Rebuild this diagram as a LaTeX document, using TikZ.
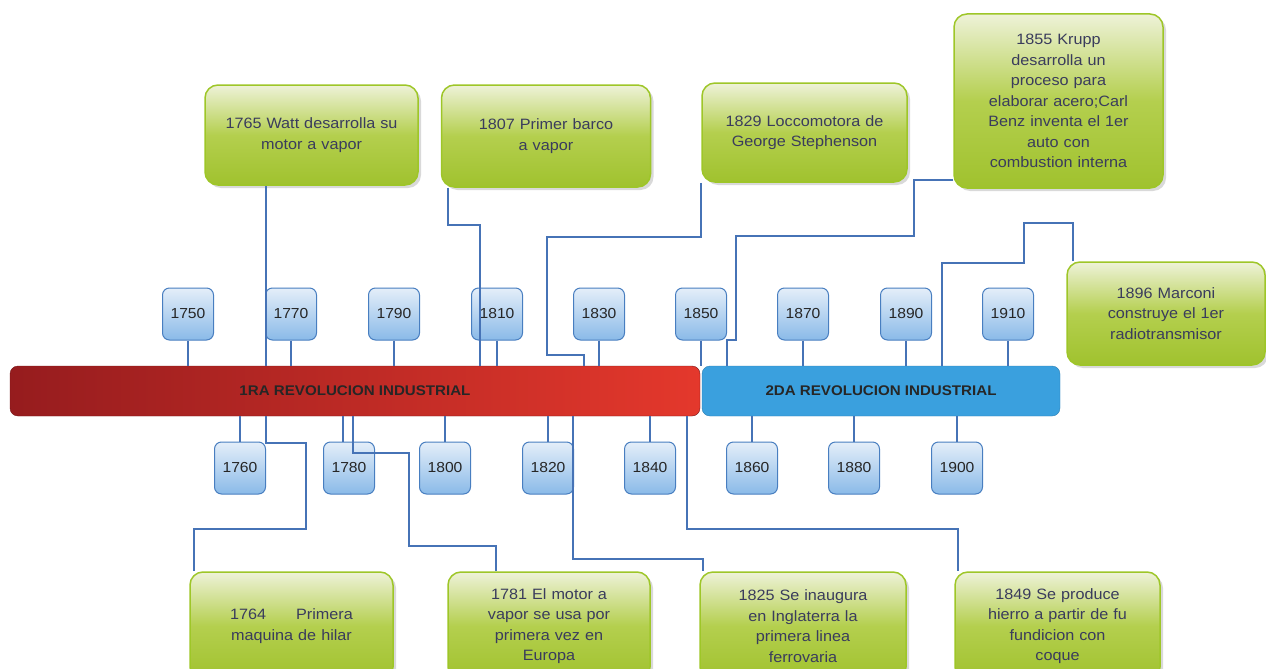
\documentclass[tikz,border=0pt]{standalone}
\usepackage{fontspec}
\setmainfont{Liberation Sans}[FakeStretch=1.08]
\usetikzlibrary{shadows}

\definecolor{linkblue}{RGB}{70,115,182}
\definecolor{yeartop}{RGB}{228,238,249}
\definecolor{yearbot}{RGB}{138,186,232}
\definecolor{yearedge}{RGB}{72,126,192}
\definecolor{greentop}{RGB}{238,242,216}
\definecolor{greenmid}{RGB}{180,207,78}
\definecolor{greenbot}{RGB}{160,194,46}
\definecolor{greenedge}{RGB}{158,198,40}
\definecolor{eventtext}{RGB}{58,60,92}
\definecolor{redleft}{RGB}{150,28,30}
\definecolor{redright}{RGB}{228,56,44}
\definecolor{blueera}{RGB}{58,160,222}

\begin{document}
\begin{tikzpicture}[x=1pt, y=-1pt,
  link/.style={linkblue, line width=1.1pt},
  yearbox/.style={draw=yearedge, line width=1pt, rounded corners=7pt,
    top color=yeartop, bottom color=yearbot, minimum width=51pt,
    minimum height=52pt, inner sep=0pt,
    font=\fontsize{14.5}{16}\selectfont, text=black!85},
  eventbox/.style={draw=greenedge, line width=1.5pt, rounded corners=13pt,
    top color=greentop, bottom color=greenbot, middle color=greenmid,
    drop shadow={shadow xshift=3pt, shadow yshift=-3pt, opacity=.3},
    align=center, inner sep=6pt,
    font=\fontsize{15}{20.5}\selectfont, text=eventtext},
  era/.style={rounded corners=8pt, minimum height=50pt, inner sep=0pt,
    font=\fontsize{14}{16}\selectfont\bfseries, text=black!85}]
\clip (0,0) rectangle (1266,669);

% the two revolutions
\node [era, draw=redleft!80!black, left color=redleft, right color=redright,
  minimum width=690pt] (rev1) at (355,391) {1RA REVOLUCION INDUSTRIAL};
\node [era, draw=blueera!80!black, fill=blueera,
  minimum width=358pt] (rev2) at (881,391) {2DA REVOLUCION INDUSTRIAL};

% years above and below
\foreach \yr/\x in {1750/188, 1770/291, 1790/394, 1810/497, 1830/599,
                    1850/701, 1870/803, 1890/906, 1910/1008}
{
  \node [yearbox] (y\yr) at (\x,314) {\yr};
  \draw [link] (y\yr.south) -- (y\yr.south |- rev1.north);
}
\foreach \yr/\x/\s in {1760/240/240, 1780/349/343, 1800/445/445,
                       1820/548/548, 1840/650/650, 1860/752/752,
                       1880/854/854, 1900/957/957}
{
  \node [yearbox] (y\yr) at (\x,468) {\yr};
  \draw [link] (\s,0 |- y\yr.north) -- (\s,0 |- rev1.south);
}

% events
\node [eventbox, minimum width=213pt, minimum height=100pt, text width=199pt]
  (watt) at (311.5,135) {1765 Watt desarrolla su\\ motor a vapor};
\node [eventbox, minimum width=209pt, minimum height=102pt, text width=195pt]
  (barco) at (546,136) {1807 Primer barco\\ a vapor};
\node [eventbox, minimum width=205pt, minimum height=99pt, text width=191pt]
  (loco) at (804.5,132.5) {1829 Loccomotora de\\ George Stephenson};
\node [eventbox, minimum width=209pt, minimum height=174pt, text width=195pt]
  (krupp) at (1058.5,101) {1855 Krupp\\ desarrolla un\\ proceso para\\
  elaborar acero;Carl\\ Benz inventa el 1er\\ auto con\\ combustion interna};
\node [eventbox, minimum width=198pt, minimum height=103pt, text width=184pt]
  (marconi) at (1166,313.5) {1896 Marconi\\ construye el 1er\\ radiotransmisor};
\node [eventbox, minimum width=203pt, minimum height=108pt, text width=189pt]
  (hilar) at (291.5,626) {1764\hspace{2em}Primera\\ maquina de hilar};
\node [eventbox, minimum width=202pt, minimum height=108pt, text width=188pt]
  (europa) at (549,626) {1781 El motor a\\ vapor se usa por\\ primera vez en\\ Europa};
\node [eventbox, minimum width=206pt, minimum height=108pt, text width=192pt]
  (ferro) at (803,626) {1825 Se inaugura\\ en Inglaterra la\\ primera linea\\ ferrovaria};
\node [eventbox, minimum width=205pt, minimum height=108pt, text width=191pt]
  (coque) at (1057.5,626) {1849 Se produce\\ hierro a partir de fu\\ fundicion con\\ coque};

% connectors
\draw [link] (266,0 |- watt.south) -- (266,0 |- rev1.north);
\draw [link] (266,0 |- rev1.south) -- (266,443) -- (306,443) -- (306,529)
  -- (194,529) -- (194,0 |- hilar.north);
\draw [link] (353,0 |- rev1.south) -- (353,453) -- (409,453) -- (409,546)
  -- (496,546) -- (496,0 |- europa.north);
\draw [link] (448,0 |- barco.south) -- (448,225) -- (480,225)
  -- (480,0 |- rev1.north);
\draw [link] (701,0 |- loco.south) -- (701,237) -- (547,237) -- (547,355)
  -- (584,355) -- (584,0 |- rev1.north);
\draw [link] (krupp.west |- 0,180) -- (914,180) -- (914,236) -- (736,236)
  -- (736,340) -- (727,340) -- (727,0 |- rev2.north);
\draw [link] (1073,0 |- marconi.north) -- (1073,223) -- (1024,223)
  -- (1024,263) -- (942,263) -- (942,0 |- rev2.north);
\draw [link] (573,0 |- rev1.south) -- (573,559) -- (703,559)
  -- (703,0 |- ferro.north);
\draw [link] (687,0 |- rev1.south) -- (687,529) -- (958,529)
  -- (958,0 |- coque.north);
\end{tikzpicture}
\end{document}
